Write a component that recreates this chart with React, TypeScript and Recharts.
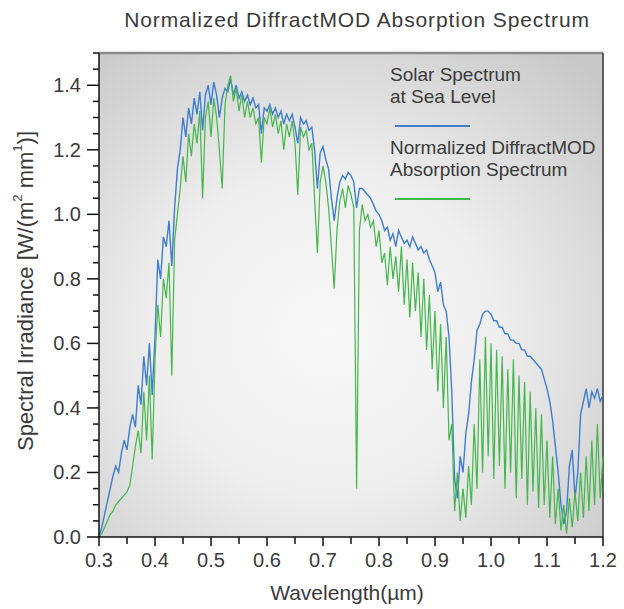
import {
  LineChart,
  Line,
  XAxis,
  YAxis,
  CartesianGrid,
  ReferenceLine,
} from "recharts";

// wavelength grid (µm)
const wavelengths = [
  0.3, 0.305, 0.31, 0.315, 0.32, 0.325, 0.33, 0.335, 0.34, 0.345,
  0.35, 0.355, 0.36, 0.365, 0.37, 0.375, 0.38, 0.385, 0.39, 0.395,
  0.4, 0.405, 0.41, 0.415, 0.42, 0.425, 0.43, 0.435, 0.44, 0.445,
  0.45, 0.455, 0.46, 0.465, 0.47, 0.475, 0.48, 0.485, 0.49, 0.495,
  0.5, 0.505, 0.51, 0.515, 0.52, 0.525, 0.53, 0.535, 0.54, 0.545,
  0.55, 0.555, 0.56, 0.565, 0.57, 0.575, 0.58, 0.585, 0.59, 0.595,
  0.6, 0.605, 0.61, 0.615, 0.62, 0.625, 0.63, 0.635, 0.64, 0.645,
  0.65, 0.655, 0.66, 0.665, 0.67, 0.675, 0.68, 0.685, 0.69, 0.695,
  0.7, 0.705, 0.71, 0.715, 0.72, 0.725, 0.73, 0.735, 0.74, 0.745,
  0.75, 0.755, 0.76, 0.765, 0.77, 0.775, 0.78, 0.785, 0.79, 0.795,
  0.8, 0.805, 0.81, 0.815, 0.82, 0.825, 0.83, 0.835, 0.84, 0.845,
  0.85, 0.855, 0.86, 0.865, 0.87, 0.875, 0.88, 0.885, 0.89, 0.895,
  0.9, 0.905, 0.91, 0.915, 0.92, 0.925, 0.93, 0.935, 0.94, 0.945,
  0.95, 0.955, 0.96, 0.965, 0.97, 0.975, 0.98, 0.985, 0.99, 0.995,
  1.0, 1.005, 1.01, 1.015, 1.02, 1.025, 1.03, 1.035, 1.04, 1.045,
  1.05, 1.055, 1.06, 1.065, 1.07, 1.075, 1.08, 1.085, 1.09, 1.095,
  1.1, 1.105, 1.11, 1.115, 1.12, 1.125, 1.13, 1.135, 1.14, 1.145,
  1.15, 1.155, 1.16, 1.165, 1.17, 1.175, 1.18, 1.185, 1.19, 1.195,
  1.2,
];

// solar spectrum at sea level
const solar = [
  0.0, 0.03, 0.07, 0.11, 0.15, 0.19, 0.22, 0.2, 0.26, 0.3,
  0.27, 0.34, 0.38, 0.34, 0.47, 0.41, 0.56, 0.47, 0.6, 0.44,
  0.62, 0.86, 0.8, 0.93, 0.9, 0.98, 0.84, 1.02, 1.14, 1.2,
  1.3, 1.24, 1.33, 1.28, 1.36, 1.31, 1.38, 1.26, 1.37, 1.4,
  1.34, 1.41, 1.37, 1.3, 1.36, 1.39, 1.38, 1.42, 1.37, 1.4,
  1.36, 1.38, 1.35, 1.37, 1.34, 1.36, 1.33, 1.34, 1.25, 1.33,
  1.32, 1.34, 1.31, 1.33, 1.3, 1.32, 1.28, 1.31, 1.29, 1.31,
  1.27, 1.22, 1.3, 1.28, 1.29, 1.26, 1.27, 1.2, 1.08, 1.19,
  1.21, 1.17, 1.14, 1.05, 0.98, 1.05, 1.1, 1.12, 1.11, 1.13,
  1.12, 1.1, 1.02, 1.08, 1.08, 1.07, 1.06, 1.05, 1.03, 1.01,
  1.0, 0.98, 0.95, 0.96, 0.92, 0.94, 0.9, 0.95, 0.93, 0.91,
  0.92, 0.9, 0.93, 0.91, 0.89, 0.9, 0.88, 0.89, 0.86, 0.84,
  0.82, 0.76, 0.79, 0.72, 0.7, 0.62, 0.45, 0.18, 0.12, 0.25,
  0.2, 0.32, 0.38, 0.48, 0.55, 0.64, 0.66, 0.69, 0.7, 0.7,
  0.69, 0.67, 0.67, 0.65, 0.65, 0.63, 0.63, 0.61, 0.61, 0.6,
  0.6, 0.58, 0.58, 0.56, 0.56, 0.55, 0.54, 0.53, 0.52, 0.49,
  0.46, 0.42, 0.36, 0.28, 0.2, 0.1, 0.04, 0.08, 0.22, 0.27,
  0.12, 0.2, 0.38, 0.42, 0.46, 0.4, 0.45, 0.43, 0.46, 0.42,
  0.44,
];

// normalized DiffractMOD absorption spectrum
const diffract = [
  0.0, 0.01, 0.03, 0.05, 0.07, 0.08, 0.1, 0.11, 0.12, 0.13,
  0.14, 0.16, 0.22, 0.28, 0.33, 0.26, 0.45, 0.3, 0.5, 0.24,
  0.55, 0.72, 0.62, 0.8, 0.74, 0.85, 0.5, 0.92, 1.0, 1.08,
  1.18, 1.1, 1.25, 1.18, 1.28, 1.22, 1.32, 1.05, 1.3, 1.35,
  1.24, 1.36, 1.3, 1.2, 1.08, 1.34, 1.4, 1.43, 1.35, 1.39,
  1.32, 1.37, 1.3, 1.35, 1.3, 1.33, 1.28, 1.3, 1.16, 1.3,
  1.28, 1.33, 1.27, 1.31, 1.25, 1.29, 1.2, 1.28, 1.24, 1.29,
  1.22, 1.06, 1.27, 1.24, 1.26, 1.2, 1.22, 1.05, 0.88, 1.1,
  1.15, 1.1, 1.02, 0.9, 0.77, 0.95, 1.04, 1.08, 1.02, 1.09,
  1.06, 1.02, 0.15, 0.95, 1.03, 0.98, 1.0, 0.96, 0.98, 0.9,
  0.95, 0.85, 0.88, 0.78, 0.9, 0.8, 0.87, 0.76, 0.9, 0.72,
  0.86, 0.68, 0.85, 0.7, 0.82, 0.62, 0.8, 0.58, 0.75, 0.52,
  0.7, 0.45, 0.66, 0.4, 0.62, 0.3, 0.35, 0.08, 0.2, 0.05,
  0.15, 0.06, 0.22, 0.1, 0.35, 0.15, 0.55, 0.2, 0.62, 0.25,
  0.6, 0.18, 0.58, 0.22, 0.56, 0.15, 0.52, 0.2, 0.55, 0.12,
  0.5, 0.18, 0.48, 0.1, 0.45, 0.14, 0.4, 0.09, 0.38, 0.1,
  0.3, 0.06, 0.25, 0.04, 0.15, 0.02, 0.1, 0.01, 0.12, 0.03,
  0.14, 0.05, 0.2, 0.06, 0.25, 0.08, 0.3, 0.1, 0.35, 0.12,
  0.25,
];

const xTicks = [
  0.3, 0.35, 0.4, 0.45, 0.5, 0.55, 0.6, 0.65, 0.7, 0.75,
  0.8, 0.85, 0.9, 0.95, 1.0, 1.05, 1.1, 1.15, 1.2,
];
const yTicks = [
  0, 0.05, 0.1, 0.15, 0.2, 0.25, 0.3, 0.35, 0.4, 0.45, 0.5, 0.55, 0.6,
  0.65, 0.7, 0.75, 0.8, 0.85, 0.9, 0.95, 1.0, 1.05, 1.1, 1.15, 1.2,
  1.25, 1.3, 1.35, 1.4, 1.45, 1.5,
];

const BLUE = "#3f7dcf";
const GREEN = "#44b64b";
const FONT = "'Liberation Sans', Arial, sans-serif";
const TEXT = "#3a3a3a";

const data = wavelengths.map((w, i) => ({
  w,
  solar: solar[i],
  diffract: diffract[i],
}));

const XTick = ({ x, y, payload }: any) => {
  const major = Math.round(payload.value * 100) % 10 === 0;
  return (
    <g>
      <line x1={x} y1={y} x2={x} y2={y + (major ? 9 : 7)} stroke="#111" strokeWidth={1.5} />
      {major && (
        <text x={x} y={y + 30} textAnchor="middle" fontSize={20} fill={TEXT} fontFamily={FONT}>
          {payload.value.toFixed(1)}
        </text>
      )}
    </g>
  );
};

const YTick = ({ x, y, payload }: any) => {
  const major = Math.round(payload.value * 100) % 20 === 0;
  return (
    <g>
      <line x1={x} y1={y} x2={x - (major ? 12 : 6)} y2={y} stroke="#111" strokeWidth={1.5} />
      {major && payload.value < 1.45 && (
        <text x={x - 18} y={y + 7} textAnchor="end" fontSize={20} fill={TEXT} fontFamily={FONT}>
          {payload.value.toFixed(1)}
        </text>
      )}
    </g>
  );
};

const YLabel = ({ viewBox }: any) => {
  const cx = viewBox.x + 27;
  const cy = viewBox.y + viewBox.height / 2 - 4;
  return (
    <text
      x={cx}
      y={cy}
      transform={`rotate(-90, ${cx}, ${cy})`}
      textAnchor="middle"
      dominantBaseline="middle"
      fontSize={22}
      fill={TEXT}
      fontFamily={FONT}
    >
      Spectral Irradiance [W/(m
      <tspan dy={-8} fontSize={13}>2</tspan>
      <tspan dy={8}> mm</tspan>
      <tspan dy={-8} fontSize={13}>1</tspan>
      <tspan dy={8}>)]</tspan>
    </text>
  );
};

export default function App() {
  return (
    <div
      style={{
        position: "absolute",
        left: 0,
        top: 0,
        width: 624,
        height: 609,
        background: "#fff",
        fontFamily: FONT,
      }}
    >
      <div
        style={{
          position: "absolute",
          left: 0,
          width: 714,
          top: 8,
          textAlign: "center",
          fontSize: 21,
          letterSpacing: 0.9,
          color: TEXT,
          whiteSpace: "nowrap",
        }}
      >
        Normalized DiffractMOD Absorption Spectrum
      </div>

      <LineChart
        width={624}
        height={609}
        data={data}
        margin={{ top: 53, right: 21, bottom: 0, left: 0 }}
      >
        <defs>
          <radialGradient id="bgGrad" cx="45%" cy="58%" r="75%">
            <stop offset="0%" stopColor="#f8f8f8" />
            <stop offset="45%" stopColor="#eeeeee" />
            <stop offset="100%" stopColor="#c8c8c8" />
          </radialGradient>
        </defs>
        <CartesianGrid stroke="none" fill="url(#bgGrad)" fillOpacity={1} />
        <XAxis
          dataKey="w"
          type="number"
          domain={[0.3, 1.2]}
          ticks={xTicks}
          interval={0}
          height={72}
          tickSize={0}
          tickMargin={0}
          tickLine={false}
          tick={<XTick />}
          axisLine={{ stroke: "#111", strokeWidth: 1.5 }}
          label={{
            value: "Wavelength(\u00b5m)",
            position: "insideBottom",
            offset: 9,
            dx: -4,
            fontSize: 21,
            fill: TEXT,
            fontFamily: FONT,
          }}
        />
        <YAxis
          type="number"
          domain={[0, 1.5]}
          ticks={yTicks}
          interval={0}
          width={99}
          tickSize={0}
          tickMargin={0}
          tickLine={false}
          tick={<YTick />}
          axisLine={{ stroke: "#111", strokeWidth: 1.5 }}
          label={<YLabel />}
        />
        <ReferenceLine y={1.5} stroke="#8a8a8a" strokeWidth={2.5} />
        <ReferenceLine x={1.2} stroke="#333" strokeWidth={1.5} />
        <Line
          type="linear"
          dataKey="solar"
          stroke={BLUE}
          strokeWidth={1.4}
          dot={false}
          isAnimationActive={false}
        />
        <Line
          type="linear"
          dataKey="diffract"
          stroke={GREEN}
          strokeWidth={1.2}
          dot={false}
          isAnimationActive={false}
        />
      </LineChart>

      <div
        style={{
          position: "absolute",
          left: 390,
          top: 64,
          fontSize: 19,
          lineHeight: "22px",
          color: TEXT,
          whiteSpace: "nowrap",
        }}
      >
        <div>Solar Spectrum</div>
        <div>at Sea Level</div>
        <div style={{ width: 75, height: 2, background: BLUE, margin: "17px 0 10px 5px" }} />
        <div>Normalized DiffractMOD</div>
        <div>Absorption Spectrum</div>
        <div style={{ width: 75, height: 2, background: GREEN, margin: "17px 0 0 5px" }} />
      </div>
    </div>
  );
}
